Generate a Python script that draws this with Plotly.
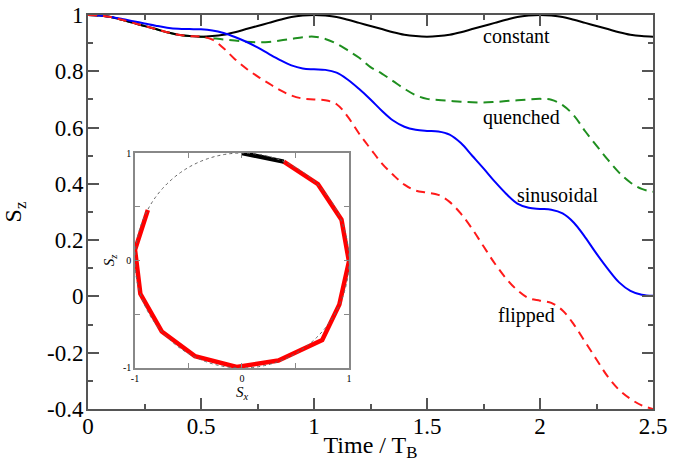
import plotly.graph_objects as go

# ---------------- data ----------------
t = [0.00, 0.05, 0.10, 0.15, 0.20, 0.25, 0.30, 0.35, 0.40, 0.45, 0.50,
     0.55, 0.60, 0.65, 0.70, 0.75, 0.80, 0.85, 0.90, 0.95, 1.00,
     1.05, 1.10, 1.15, 1.20, 1.25, 1.30, 1.35, 1.40, 1.45, 1.50,
     1.55, 1.60, 1.65, 1.70, 1.75, 1.80, 1.85, 1.90, 1.95, 2.00,
     2.05, 2.10, 2.15, 2.20, 2.25, 2.30, 2.35, 2.40, 2.45, 2.50]

constant = [1.000, 0.998, 0.993, 0.983, 0.972, 0.961, 0.950, 0.939, 0.930, 0.925, 0.923,
            0.925, 0.930, 0.939, 0.950, 0.961, 0.972, 0.983, 0.993, 0.998, 1.000,
            0.998, 0.993, 0.983, 0.972, 0.961, 0.950, 0.939, 0.930, 0.925, 0.923,
            0.925, 0.930, 0.939, 0.950, 0.961, 0.972, 0.983, 0.993, 0.998, 1.000,
            0.998, 0.993, 0.983, 0.972, 0.961, 0.950, 0.939, 0.930, 0.925, 0.923]

quenched = [1.000, 0.998, 0.993, 0.983, 0.972, 0.961, 0.950, 0.939, 0.930, 0.925, 0.923,
            0.918, 0.913, 0.909, 0.905, 0.903, 0.904, 0.909, 0.915, 0.921, 0.923,
            0.915, 0.898, 0.874, 0.848, 0.815, 0.792, 0.765, 0.738, 0.715, 0.702,
            0.698, 0.695, 0.692, 0.690, 0.689, 0.691, 0.694, 0.697, 0.700, 0.702,
            0.699, 0.680, 0.643, 0.587, 0.536, 0.486, 0.440, 0.405, 0.382, 0.372]

sinusoidal = [1.000, 0.998, 0.993, 0.986, 0.978, 0.970, 0.962, 0.955, 0.951, 0.950, 0.949,
              0.945, 0.936, 0.922, 0.905, 0.885, 0.862, 0.840, 0.821, 0.810, 0.807,
              0.805, 0.795, 0.770, 0.737, 0.700, 0.660, 0.625, 0.603, 0.592, 0.588,
              0.586, 0.575, 0.545, 0.500, 0.455, 0.408, 0.365, 0.330, 0.315, 0.311,
              0.308, 0.295, 0.262, 0.210, 0.152, 0.098, 0.050, 0.020, 0.006, 0.002]

flipped = [1.000, 0.998, 0.993, 0.983, 0.972, 0.961, 0.950, 0.939, 0.930, 0.925, 0.923,
           0.913, 0.882, 0.843, 0.810, 0.782, 0.757, 0.733, 0.714, 0.703, 0.700,
           0.697, 0.683, 0.638, 0.578, 0.525, 0.473, 0.432, 0.397, 0.376, 0.369,
           0.361, 0.336, 0.294, 0.240, 0.178, 0.117, 0.064, 0.022, -0.006, -0.015,
           -0.023, -0.050, -0.100, -0.162, -0.224, -0.285, -0.332, -0.364, -0.387, -0.400]

# inset: trajectory on the Bloch circle
inset_sx_black = [0.00, 0.39]
inset_sz_black = [1.00, 0.92]
inset_sx_red = [0.39, 0.71, 0.93, 1.00, 0.91, 0.75, 0.34, -0.05, -0.44, -0.75, -0.95, -1.00, -0.88]
inset_sz_red = [0.92, 0.71, 0.38, -0.01, -0.41, -0.74, -0.93, -0.99, -0.89, -0.66, -0.31, 0.10, 0.47]

x_ticks = [0, 0.5, 1, 1.5, 2, 2.5]
x_labels = ["0", "0.5", "1", "1.5", "2", "2.5"]
y_ticks = [-0.4, -0.2, 0, 0.2, 0.4, 0.6, 0.8, 1]
y_labels = ["-0.4", "-0.2", "0", "0.2", "0.4", "0.6", "0.8", "1"]
inset_ticks = [-1, 0, 1]
inset_labels = ["-1", "0", "1"]

labels = ["constant", "quenched", "sinusoidal", "flipped"]
label_t = [1.897, 1.919, 2.081, 1.941]
label_s = [0.925, 0.637, 0.359, -0.068]

# ---------------- figure ----------------
SERIF = "Liberation Serif, Times New Roman, serif"
FRAME = "#555555"
INSET_FRAME = "#888888"
fig = go.Figure()

fig.add_trace(go.Scatter(x=t, y=quenched, mode="lines", line_shape="spline",
                         line=dict(color="#1f8f1f", width=2, dash="10px,6px"), name="quenched"))
fig.add_trace(go.Scatter(x=t, y=constant, mode="lines", line_shape="spline",
                         line=dict(color="black", width=2), name="constant"))
fig.add_trace(go.Scatter(x=t, y=sinusoidal, mode="lines", line_shape="spline",
                         line=dict(color="#0000ff", width=2), name="sinusoidal"))
fig.add_trace(go.Scatter(x=t, y=flipped, mode="lines", line_shape="spline",
                         line=dict(color="#ff1a1a", width=2, dash="9px,6px"), name="flipped"))

fig.add_trace(go.Scatter(x=inset_sx_red, y=inset_sz_red, mode="lines", xaxis="x2", yaxis="y2",
                         line=dict(color="#ff0000", width=4.5), name="inset red"))
fig.add_trace(go.Scatter(x=inset_sx_black, y=inset_sz_black, mode="lines", xaxis="x2", yaxis="y2",
                         line=dict(color="black", width=4.5), name="inset black"))

fig.add_shape(type="circle", xref="x2", yref="y2", x0=-1, y0=-1, x1=1, y1=1,
              line=dict(color="#666666", width=1, dash="dot"), layer="above")

for txt, xx, yy in zip(labels, label_t, label_s):
    fig.add_annotation(x=xx, y=yy, xref="x", yref="y", text=txt, showarrow=False,
                       font=dict(family=SERIF, size=20, color="black"))

inset_axis = dict(range=[-1, 1], tickmode="array", tickvals=inset_ticks, ticktext=inset_labels,
                  ticks="inside", ticklen=5, tickwidth=1, tickcolor=INSET_FRAME,
                  minor=dict(tickmode="linear", tick0=-1, dtick=0.5, ticks="inside", ticklen=5,
                             tickwidth=1, tickcolor=INSET_FRAME, showgrid=False),
                  showline=True, linecolor=INSET_FRAME, linewidth=1.5, mirror="allticks",
                  showgrid=False, zeroline=False, automargin=False,
                  tickfont=dict(family=SERIF, size=10, color="black"))

fig.update_layout(
    width=689, height=462,
    margin=dict(l=88, r=36, t=15, b=53),
    paper_bgcolor="white", plot_bgcolor="white",
    showlegend=False,
    font=dict(family=SERIF, color="black"),
    xaxis=dict(range=[0, 2.5], tickmode="array", tickvals=x_ticks, ticktext=x_labels,
               ticks="inside", ticklen=11, tickwidth=1.5, tickcolor=FRAME,
               minor=dict(tickmode="linear", tick0=0, dtick=0.25, ticks="inside", ticklen=5,
                          tickwidth=1.5, tickcolor=FRAME, showgrid=False),
               showline=True, linecolor=FRAME, linewidth=2, mirror="allticks",
               showgrid=False, zeroline=False, automargin=False,
               ticklabelstandoff=-5,
               tickfont=dict(family=SERIF, size=23, color="black"),
               title=dict(text="Time / T<sub>B</sub>", font=dict(family=SERIF, size=24, color="black"),
                          standoff=4)),
    yaxis=dict(range=[-0.4, 1], tickmode="array", tickvals=y_ticks, ticktext=y_labels,
               ticks="inside", ticklen=11, tickwidth=1.5, tickcolor=FRAME,
               minor=dict(tickmode="linear", tick0=-0.4, dtick=0.1, ticks="inside", ticklen=5,
                          tickwidth=1.5, tickcolor=FRAME, showgrid=False),
               showline=True, linecolor=FRAME, linewidth=2, mirror="allticks",
               showgrid=False, zeroline=False, automargin=False,
               ticklabelstandoff=-2,
               tickfont=dict(family=SERIF, size=23, color="black"),
               title=dict(text="S<sub>z</sub>", font=dict(family=SERIF, size=24, color="black"),
                          standoff=32)),
    xaxis2=dict(inset_axis, domain=[0.0832, 0.4619], anchor="y2",
                title=dict(text="<i>S<sub>x</sub></i>", font=dict(family=SERIF, size=15, color="black"),
                           standoff=0)),
    yaxis2=dict(inset_axis, domain=[0.1041, 0.6497], anchor="x2",
                title=dict(text="<i>S<sub>z</sub></i>", font=dict(family=SERIF, size=15, color="black"),
                           standoff=5)),
)

fig.write_html("out.html", config={"displayModeBar": False},
               post_script="document.body.style.margin='0';")
